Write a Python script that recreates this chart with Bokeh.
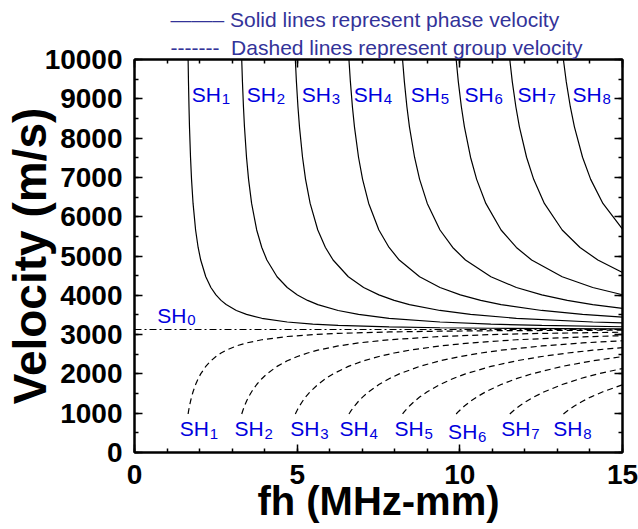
from bokeh.plotting import figure
from bokeh.models import LinearAxis, Title, SingleIntervalTicker
from bokeh.core.properties import value
from bokeh.embed import file_html
from bokeh.resources import INLINE

# ---------------- data ----------------
sh0_fh = [0.0, 15.0]
sh0_v = [3130, 3130]

fh_sh1 = [1.648, 1.659, 1.675, 1.690, 1.722, 1.753, 1.800, 1.878, 1.956, 2.035, 2.191, 2.348, 2.504,
          2.661, 2.817, 3.130, 3.443, 3.913, 4.695, 5.478, 6.260, 7.825, 9.390, 10.955, 15.0]
vp_sh1 = [9994, 9436, 8798, 8287, 7513, 6950, 6338, 5662, 5217, 4898, 4472, 4199, 4010,
          3870, 3764, 3614, 3514, 3415, 3320, 3266, 3233, 3195, 3174, 3162, 3147]
vg_sh1 = [980, 1038, 1113, 1182, 1304, 1410, 1546, 1730, 1878, 2000, 2191, 2333, 2443,
          2531, 2603, 2711, 2788, 2869, 2951, 3000, 3031, 3067, 3086, 3098, 3113]

fh_sh2 = [3.296, 3.318, 3.349, 3.380, 3.443, 3.506, 3.600, 3.756, 3.913, 4.069, 4.382, 4.695,
          5.008, 5.321, 5.634, 6.260, 6.886, 7.825, 9.390, 10.955, 12.520, 15.0]
vp_sh2 = [9994, 9436, 8798, 8287, 7513, 6950, 6338, 5662, 5217, 4898, 4472, 4199,
          4010, 3870, 3764, 3614, 3514, 3415, 3320, 3266, 3233, 3200]
vg_sh2 = [980, 1038, 1113, 1182, 1304, 1410, 1546, 1730, 1878, 2000, 2191, 2333,
          2443, 2531, 2603, 2711, 2788, 2869, 2951, 3000, 3031, 3061]

fh_sh3 = [4.944, 4.977, 5.024, 5.071, 5.165, 5.258, 5.399, 5.634, 5.869, 6.104, 6.573, 7.043,
          7.512, 7.982, 8.451, 9.390, 10.329, 11.738, 14.085, 15.0]
vp_sh3 = [9994, 9436, 8798, 8287, 7513, 6950, 6338, 5662, 5217, 4898, 4472, 4199,
          4010, 3870, 3764, 3614, 3514, 3415, 3320, 3296]
vg_sh3 = [980, 1038, 1113, 1182, 1304, 1410, 1546, 1730, 1878, 2000, 2191, 2333,
          2443, 2531, 2603, 2711, 2788, 2869, 2951, 2973]

fh_sh4 = [6.592, 6.636, 6.698, 6.761, 6.886, 7.011, 7.199, 7.512, 7.825, 8.138, 8.764, 9.390,
          10.016, 10.642, 11.268, 12.520, 13.772, 15.0]
vp_sh4 = [9994, 9436, 8798, 8287, 7513, 6950, 6338, 5662, 5217, 4898, 4472, 4199,
          4010, 3870, 3764, 3614, 3514, 3444]
vg_sh4 = [980, 1038, 1113, 1182, 1304, 1410, 1546, 1730, 1878, 2000, 2191, 2333,
          2443, 2531, 2603, 2711, 2788, 2844]

fh_sh5 = [8.240, 8.295, 8.373, 8.451, 8.608, 8.764, 8.999, 9.390, 9.781, 10.173, 10.955, 11.738,
          12.520, 13.303, 14.085, 15.0]
vp_sh5 = [9994, 9436, 8798, 8287, 7513, 6950, 6338, 5662, 5217, 4898, 4472, 4199,
          4010, 3870, 3764, 3669]
vg_sh5 = [980, 1038, 1113, 1182, 1304, 1410, 1546, 1730, 1878, 2000, 2191, 2333,
          2443, 2531, 2603, 2670]

fh_sh6 = [9.888, 9.953, 10.047, 10.141, 10.329, 10.517, 10.799, 11.268, 11.738, 12.207, 13.146,
          14.085, 15.0]
vp_sh6 = [9994, 9436, 8798, 8287, 7513, 6950, 6338, 5662, 5217, 4898, 4472, 4199, 4014]
vg_sh6 = [980, 1038, 1113, 1182, 1304, 1410, 1546, 1730, 1878, 2000, 2191, 2333, 2441]

fh_sh7 = [11.536, 11.612, 11.722, 11.831, 12.051, 12.270, 12.598, 13.146, 13.694, 14.242, 15.0]
vp_sh7 = [9994, 9436, 8798, 8287, 7513, 6950, 6338, 5662, 5217, 4898, 4582]
vg_sh7 = [980, 1038, 1113, 1182, 1304, 1410, 1546, 1730, 1878, 2000, 2138]

fh_sh8 = [13.184, 13.271, 13.396, 13.522, 13.772, 14.022, 14.398, 15.0]
vp_sh8 = [9994, 9436, 8798, 8287, 7513, 6950, 6338, 5683]
vg_sh8 = [980, 1038, 1113, 1182, 1304, 1410, 1546, 1724]

mode_numbers = ["1", "2", "3", "4", "5", "6", "7", "8"]
legend_texts = ["Solid lines represent phase velocity", "Dashed lines represent group velocity"]

# label anchor positions (layout)
top_lab_x = [1.76, 3.45, 5.14, 6.74, 8.49, 10.14, 11.77, 13.46]
top_lab_y = [9110] * 8
bot_lab_x = [1.39, 3.07, 4.79, 6.30, 7.99, 9.64, 11.27, 12.87]
bot_lab_y = [607, 607, 607, 607, 607, 531, 607, 607]
sh0_lab_x = [0.70]
sh0_lab_y = [3490]

FONT = "Liberation Sans"
BLUE = "#0000DD"
LEG = "#333399"

p = figure(width=638, height=529, x_range=(0, 15), y_range=(0, 10000),
           output_backend="svg", toolbar_location=None,
           min_border_left=134, min_border_right=16, min_border_top=59, min_border_bottom=77)
p.grid.visible = False
p.outline_line_color = "black"
p.outline_line_width = 2


def style_axis(ax, labels=True):
    ax.axis_line_width = 2
    ax.axis_line_color = "black"
    ax.major_tick_in = 8
    ax.major_tick_out = 0
    ax.minor_tick_in = 4
    ax.minor_tick_out = 0
    ax.major_tick_line_width = 1.5
    ax.minor_tick_line_width = 1.5
    ax.major_tick_line_color = "black"
    ax.minor_tick_line_color = "black"
    if labels:
        ax.major_label_text_font = FONT
        ax.major_label_text_font_style = "bold"
        ax.major_label_text_font_size = "28px"
        ax.major_label_text_color = "black"
    else:
        ax.major_label_text_font_size = "1px"
        ax.major_label_text_color = None
        ax.major_label_standoff = 0


p.xaxis.ticker = SingleIntervalTicker(interval=5, num_minor_ticks=5)
p.yaxis.ticker = SingleIntervalTicker(interval=1000, num_minor_ticks=2)
style_axis(p.xaxis[0])
style_axis(p.yaxis[0])
p.xaxis.major_label_standoff = 12
p.yaxis.major_label_standoff = 12
p.xaxis.axis_label = "fh (MHz-mm)"
p.yaxis.axis_label = "Velocity (m/s)"
for ax in (p.xaxis[0], p.yaxis[0]):
    ax.axis_label_text_font = FONT
    ax.axis_label_text_font_style = "bold"
    ax.axis_label_text_color = "black"
p.xaxis.axis_label_text_font_size = "40px"
p.yaxis.axis_label_text_font_size = "46px"
p.xaxis.axis_label_standoff = -8
p.yaxis.axis_label_standoff = -14

top_ax = LinearAxis(ticker=SingleIntervalTicker(interval=5, num_minor_ticks=5))
right_ax = LinearAxis(ticker=SingleIntervalTicker(interval=1000, num_minor_ticks=2))
style_axis(top_ax, labels=False)
style_axis(right_ax, labels=False)
p.add_layout(top_ax, "above")
p.add_layout(right_ax, "right")

# SH0
p.line(sh0_fh, sh0_v, line_color="black", line_width=1.2, line_dash="7 3 2 3")

modes = [(fh_sh1, vp_sh1, vg_sh1), (fh_sh2, vp_sh2, vg_sh2), (fh_sh3, vp_sh3, vg_sh3),
         (fh_sh4, vp_sh4, vg_sh4), (fh_sh5, vp_sh5, vg_sh5), (fh_sh6, vp_sh6, vg_sh6),
         (fh_sh7, vp_sh7, vg_sh7), (fh_sh8, vp_sh8, vg_sh8)]
for fh, vp, vg in modes:
    p.line(fh, vp, line_color="black", line_width=1.2)
    p.line(fh, vg, line_color="black", line_width=1.2, line_dash="6 4")

# SH labels
for xs, ys, nums in ((top_lab_x, top_lab_y, mode_numbers), (bot_lab_x, bot_lab_y, mode_numbers),
                     (sh0_lab_x, sh0_lab_y, ["0"])):
    p.text(x=xs, y=ys, text=["SH"] * len(xs), text_font=value(FONT), text_font_size="21px",
           text_color=BLUE, text_align="left", text_baseline="alphabetic")
    p.text(x=xs, y=ys, text=nums, text_font=value(FONT), text_font_size="15px",
           text_color=BLUE, text_align="left", text_baseline="alphabetic",
           x_offset=30, y_offset=5)

# legend rows above the frame (line samples drawn with dash characters)
t_dash = Title(text="-------\u00a0\u00a0" + legend_texts[1], align="left", offset=36,
               text_font=FONT, text_font_size="21px", text_font_style="normal",
               text_color=LEG, standoff=0, vertical_align="middle")
t_solid = Title(text="\u2014\u2014\u2013\u00a0" + legend_texts[0], align="left", offset=36,
                text_font=FONT, text_font_size="21px", text_font_style="normal",
                text_color=LEG, standoff=5, vertical_align="middle")
p.add_layout(t_dash, "above")
p.add_layout(t_solid, "above")

open("out.html", "w").write(file_html(p, INLINE))
